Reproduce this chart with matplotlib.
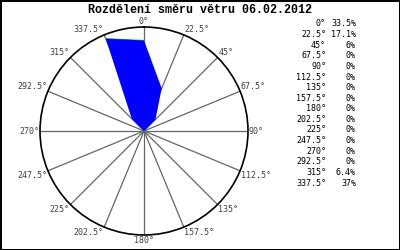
import numpy as np
import matplotlib
matplotlib.use("Agg")
import matplotlib.pyplot as plt

title = "Rozdělení směru větru 06.02.2012"
directions = [0, 22.5, 45, 67.5, 90, 112.5, 135, 157.5, 180, 202.5, 225, 247.5, 270, 292.5, 315, 337.5]
percent = [33.5, 17.1, 6, 0, 0, 0, 0, 0, 0, 0, 0, 0, 0, 0, 6.4, 37]
dir_labels = ["0°", "22.5°", "45°", "67.5°", "90°", "112.5°", "135°", "157.5°", "180°",
              "202.5°", "225°", "247.5°", "270°", "292.5°", "315°", "337.5°"]
pct_labels = ["33.5%", "17.1%", "6%", "0%", "0%", "0%", "0%", "0%", "0%", "0%", "0%", "0%",
              "0%", "0%", "6.4%", "37%"]

W, H = 400, 250
fig = plt.figure(figsize=(4, 2.5), dpi=100)
fig.patch.set_facecolor("white")
fig.patch.set_edgecolor("black")
fig.patch.set_linewidth(1.0)

cx, cy, R = 144, 131, 104
ax = fig.add_axes([(cx - R) / W, (H - cy - R) / H, 2 * R / W, 2 * R / H], projection="polar")
ax.set_theta_zero_location("N")
ax.set_theta_direction(-1)
rmax = 38.5
ax.set_ylim(0, rmax)
ax.set_yticks([])
ax.set_xticks(np.radians(directions))
ax.set_xticklabels([])
ax.xaxis.grid(True, color="#666666", linewidth=0.9)
ax.yaxis.grid(False)
ax.spines["polar"].set_color("black")
ax.spines["polar"].set_linewidth(1.2)
ax.set_facecolor("white")

theta = np.radians(directions + [directions[0]])
vals = percent + [percent[0]]
# green outline edge peeking at the top
ax.plot(np.radians([337.5, 360]), [percent[15], percent[0]], color="#00cc00", lw=0.8, zorder=2)
ax.fill(theta, vals, color="#0000ff", lw=0, zorder=3)

mono = "DejaVu Sans Mono"
for d, lab in zip(directions, dir_labels):
    s, c = np.sin(np.radians(d)), np.cos(np.radians(d))
    ha = "left" if s > 0.1 else ("right" if s < -0.1 else "center")
    va = "bottom" if c > 0.1 else ("top" if c < -0.1 else "center")
    ax.annotate(lab, (np.radians(d), rmax), xytext=(0.6 * s, 0.6 * c), textcoords="offset points",
                ha=ha, va=va, fontsize=6, family=mono, color="#404040", annotation_clip=False)

fig.text(0.5, 1 - 10 / H, title, ha="center", va="center", fontsize=8.4,
         family="Liberation Mono", weight="bold")

y0, step = 24, 10.6
for i, (a, p) in enumerate(zip(dir_labels, pct_labels)):
    y = 1 - (y0 + i * step) / H
    fig.text(326 / W, y, a, ha="right", va="center", fontsize=6, family=mono, color="black")
    fig.text(356 / W, y, p, ha="right", va="center", fontsize=6, family=mono, color="black")

fig.savefig("out.png", dpi=100, facecolor=fig.get_facecolor(), edgecolor=fig.get_edgecolor())
